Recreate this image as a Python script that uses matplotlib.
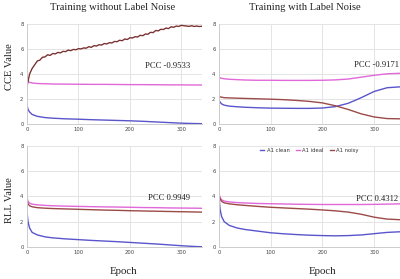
import matplotlib
matplotlib.use("Agg")
import matplotlib.pyplot as plt

# ---------------- data ----------------
ep_a = [0, 2, 5, 10, 20, 35, 50, 75, 100, 125, 150, 175, 200, 225, 250, 275, 300, 325, 340]
ep_b = [0, 2, 5, 10, 20, 35, 50, 75, 100, 125, 150, 175, 200, 225, 250, 275, 300, 325, 350]

# CCE, training without label noise
cce_clean_a = [1.5, 1.15, 0.95, 0.75, 0.6, 0.5, 0.45, 0.4, 0.37, 0.33, 0.3, 0.27, 0.24, 0.2, 0.15, 0.1, 0.05, 0.02, 0.01]
cce_ideal_a = [3.55, 3.4, 3.33, 3.28, 3.24, 3.22, 3.2, 3.19, 3.18, 3.17, 3.17, 3.16, 3.15, 3.15, 3.14, 3.13, 3.13, 3.12, 3.12]
noisy_ep = list(range(0, 345, 5))
cce_noisy_a = [3.0, 4.0, 4.45, 4.75, 5.05, 5.12, 5.35, 5.38, 5.55, 5.5, 5.65, 5.62, 5.74, 5.7, 5.83, 5.8,
               5.93, 5.88, 5.98, 5.95, 6.04, 6.02, 6.1, 6.08, 6.2, 6.15, 6.28, 6.25, 6.36, 6.33, 6.45, 6.42,
               6.52, 6.5, 6.62, 6.6, 6.72, 6.68, 6.82, 6.78, 6.92, 6.9, 7.0, 6.98, 7.12, 7.08, 7.22, 7.2,
               7.36, 7.33, 7.5, 7.47, 7.6, 7.58, 7.7, 7.66, 7.8, 7.76, 7.86, 7.83, 7.92, 7.88, 7.86, 7.84,
               7.88, 7.83, 7.86, 7.82, 7.85]

# CCE, training with label noise
cce_clean_b = [1.9, 1.75, 1.6, 1.5, 1.42, 1.37, 1.33, 1.29, 1.26, 1.25, 1.24, 1.24, 1.27, 1.38, 1.65, 2.1, 2.6, 2.9, 2.97]
cce_ideal_b = [3.75, 3.7, 3.66, 3.62, 3.58, 3.55, 3.52, 3.5, 3.5, 3.49, 3.49, 3.49, 3.5, 3.53, 3.6, 3.75, 3.9, 4.02, 4.06]
cce_noisy_b = [2.2, 2.17, 2.14, 2.1, 2.08, 2.06, 2.04, 2.01, 1.98, 1.94, 1.88, 1.8, 1.68, 1.45, 1.15, 0.8, 0.55, 0.42, 0.4]

# RLL, training without label noise
rll_clean_a = [2.8, 2.0, 1.5, 1.15, 0.95, 0.8, 0.72, 0.64, 0.58, 0.52, 0.47, 0.42, 0.36, 0.3, 0.24, 0.17, 0.1, 0.04, 0.02]
rll_ideal_a = [3.9, 3.6, 3.45, 3.38, 3.32, 3.28, 3.25, 3.22, 3.2, 3.18, 3.16, 3.15, 3.13, 3.11, 3.1, 3.08, 3.07, 3.06, 3.05]
rll_noisy_a = [3.7, 3.4, 3.25, 3.17, 3.1, 3.06, 3.03, 3.0, 2.97, 2.94, 2.91, 2.89, 2.86, 2.84, 2.82, 2.8, 2.78, 2.76, 2.75]

# RLL, training with label noise
rll_clean_b = [4.0, 3.0, 2.4, 2.0, 1.7, 1.5, 1.38, 1.25, 1.12, 1.04, 0.98, 0.93, 0.9, 0.88, 0.9, 0.95, 1.05, 1.15, 1.2]
rll_ideal_b = [4.2, 3.9, 3.72, 3.62, 3.55, 3.5, 3.47, 3.43, 3.41, 3.39, 3.37, 3.36, 3.35, 3.35, 3.35, 3.35, 3.36, 3.38, 3.4]
rll_noisy_b = [4.1, 3.8, 3.6, 3.48, 3.4, 3.33, 3.28, 3.2, 3.13, 3.08, 3.03, 2.98, 2.92, 2.85, 2.75, 2.58, 2.35, 2.2, 2.15]

pcc_labels = ["PCC -0.9533", "PCC -0.9171", "PCC 0.9949", "PCC 0.4312"]
titles = ["Training without Label Noise", "Training with Label Noise"]
ylabels = ["CCE Value", "RLL Value"]
legend_labels = ["A1 clean", "A1 ideal", "A1 noisy"]
xticks = [0, 100, 200, 300]
yticks = [0, 2, 4, 6, 8]

# ---------------- styling ----------------
C_CLEAN = "#5a55cc"
C_IDEAL = "#e068d8"
C_NOISY = "#9c4a48"
SERIF = ["Liberation Serif", "DejaVu Serif"]

W, H = 400, 279
fig = plt.figure(figsize=(W / 100, H / 100), dpi=100)


def ax_at(l, t, r, b):
    return fig.add_axes([l / W, 1 - b / H, (r - l) / W, (b - t) / H])


axes = [
    ax_at(27, 24.3, 202, 123.8),
    ax_at(219, 24.3, 400, 123.8),
    ax_at(27, 145.5, 202, 247),
    ax_at(219, 145.5, 400, 247),
]
xmax = [340, 350, 340, 350]

series = [
    (ep_a, cce_clean_a, cce_ideal_a, None),
    (ep_b, cce_clean_b, cce_ideal_b, cce_noisy_b),
    (ep_a, rll_clean_a, rll_ideal_a, rll_noisy_a),
    (ep_b, rll_clean_b, rll_ideal_b, rll_noisy_b),
]

pcc_pos = [(168, 66), (377, 65), (169, 198), (377, 199)]

for i, ax in enumerate(axes):
    ep, clean, ideal, noisy = series[i]
    ax.set_xlim(0, xmax[i])
    ax.set_ylim(0, 8)
    ax.set_xticks(xticks)
    ax.set_yticks(yticks)
    ax.grid(True, color="#e4e4e4", linewidth=0.7)
    ax.set_axisbelow(True)
    for s in ["top", "right"]:
        ax.spines[s].set_visible(False)
    for s in ["left", "bottom"]:
        ax.spines[s].set_color("#cccccc")
        ax.spines[s].set_linewidth(0.7)
    ax.tick_params(length=0, labelsize=3.8, labelcolor="#444444", pad=2.5)

    l1, = ax.plot(ep, clean, color=C_CLEAN, lw=1.0)
    l2, = ax.plot(ep, ideal, color=C_IDEAL, lw=1.0)
    if noisy is None:
        l3, = ax.plot(noisy_ep, cce_noisy_a, color=C_NOISY, lw=1.0)
        ax.plot(noisy_ep, cce_noisy_a, color="#3a1a1a", lw=0.35, alpha=0.8)
    else:
        l3, = ax.plot(ep, noisy, color=C_NOISY, lw=1.0)

    px, py = pcc_pos[i]
    fig.text(px / W, 1 - py / H, pcc_labels[i], ha="center", va="center",
             family=SERIF, fontsize=6.2, color="#222222")

    if i == 3:
        ax.legend([l1, l2, l3], legend_labels, loc="upper center", ncol=3,
                  frameon=False, fontsize=3.8, handlelength=0.8, handletextpad=0.4,
                  columnspacing=1.2, bbox_to_anchor=(0.5, 1.02), labelcolor="#333333")

# titles and axis labels
fig.text(113 / W, 1 - 8 / H, titles[0], ha="center", va="center", family=SERIF, fontsize=7.6, color="#222222")
fig.text(305 / W, 1 - 8 / H, titles[1], ha="center", va="center", family=SERIF, fontsize=7.6, color="#222222")
fig.text(10 / W, 1 - 67 / H, ylabels[0], ha="center", va="center", rotation=90, family=SERIF, fontsize=7.6, color="#222222")
fig.text(10 / W, 1 - 200 / H, ylabels[1], ha="center", va="center", rotation=90, family=SERIF, fontsize=7.6, color="#222222")
fig.text(123 / W, 1 - 272 / H, "Epoch", ha="center", va="center", family=SERIF, fontsize=7.8, color="#222222")
fig.text(322 / W, 1 - 272 / H, "Epoch", ha="center", va="center", family=SERIF, fontsize=7.8, color="#222222")

fig.savefig("out.png", dpi=100)
